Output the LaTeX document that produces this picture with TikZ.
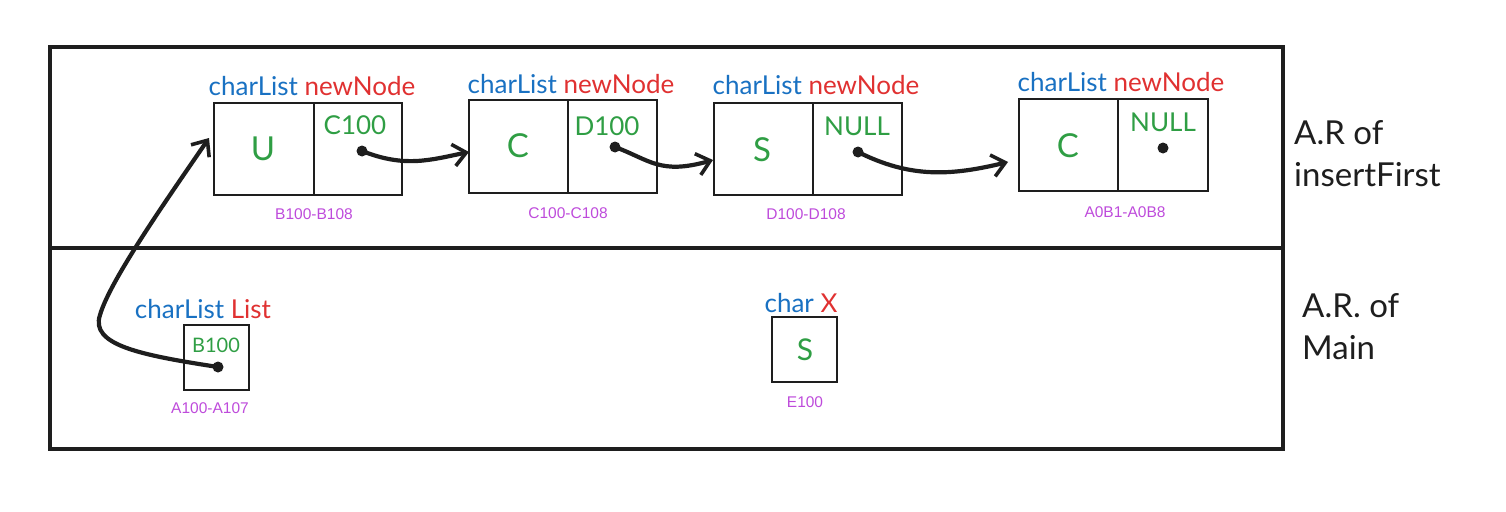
\documentclass[tikz,border=0pt]{standalone}
\usepackage{fontspec}
\setmainfont{Lato}
\newfontfamily\addrfont{Liberation Sans}
\usetikzlibrary{arrows.meta}
\definecolor{exblue}{HTML}{1971C2}
\definecolor{exred}{HTML}{E03131}
\definecolor{exgreen}{HTML}{2F9E44}
\definecolor{expurple}{HTML}{BE4BDB}
\definecolor{exink}{HTML}{1E1E1E}
\tikzset{
  frame/.style={draw=exink, line width=3.4pt},
  cellbox/.style={draw=exink, line width=1.7pt},
  vallbl/.style={text=exgreen, font=\fontsize{33}{36}\selectfont, inner sep=0pt},
  ptrlbl/.style={text=exgreen, font=\fontsize{26}{30}\selectfont, inner sep=0pt},
  smallval/.style={text=exgreen, font=\fontsize{20}{22}\selectfont, inner sep=0pt},
  typelbl/.style={font=\fontsize{26}{30}\selectfont, inner sep=0pt},
  addr/.style={text=expurple, font=\addrfont\fontsize{15.5}{18}\selectfont, inner sep=0pt},
  sidelbl/.style={text=exink, font=\fontsize{33}{42}\selectfont, align=left, inner sep=0pt, anchor=base west},
  ptrdot/.style={circle, fill=exink, inner sep=0pt, minimum size=11pt},
  link/.style={draw=exink, line width=4.2pt, line cap=round, line join=round,
     -{Straight Barb[length=13pt, width=22pt, line width=3.6pt]}},
}
\begin{document}
\begin{tikzpicture}[x=1pt, y=-1pt]
\useasboundingbox (0,0) rectangle (1506,511);
% frames
\draw[frame] (50,47) rectangle (1283,248);
\draw[frame] (50,248) rectangle (1283,449);
\node[sidelbl] (arins) at (1294,186) {A.R of\\insertFirst};
\node[sidelbl] (armain) at (1302,359) {A.R. of\\Main};

% node 1
\draw[cellbox] (214,103) rectangle (402,195);
\draw[cellbox] (314,103) -- (314,195);
\node[typelbl, anchor=base] (t1) at (312,95) {\textcolor{exblue}{charList} \textcolor{exred}{newNode}};
\node[vallbl] (v1) at (263,149) {U};
\node[ptrlbl] (p1) at (355,125) {C100};
\node[ptrdot] (d1) at (362,151) {};
\node[addr] (a1) at (314,214) {B100-B108};
\coordinate (in1) at (209,138);

% node 2
\draw[cellbox] (469,100) rectangle (657,193);
\draw[cellbox] (568,100) -- (568,193);
\node[typelbl, anchor=base] (t2) at (571,93) {\textcolor{exblue}{charList} \textcolor{exred}{newNode}};
\node[vallbl] (v2) at (518,146) {C};
\node[ptrlbl] (p2) at (607,126) {D100};
\node[ptrdot] (d2) at (615,147) {};
\node[addr] (a2) at (568,213) {C100-C108};
\coordinate (in2) at (469,152);

% node 3
\draw[cellbox] (714,103) rectangle (902,195);
\draw[cellbox] (813,103) -- (813,195);
\node[typelbl, anchor=base] (t3) at (816,94) {\textcolor{exblue}{charList} \textcolor{exred}{newNode}};
\node[vallbl] (v3) at (762,150) {S};
\node[ptrlbl] (p3) at (857,126) {NULL};
\node[ptrdot] (d3) at (858,152) {};
\node[addr] (a3) at (806,214) {D100-D108};
\coordinate (in3) at (713,160);

% node 4
\draw[cellbox] (1019,99) rectangle (1208,191);
\draw[cellbox] (1118,99) -- (1118,191);
\node[typelbl, anchor=base] (t4) at (1121,91) {\textcolor{exblue}{charList} \textcolor{exred}{newNode}};
\node[vallbl] (v4) at (1068,146) {C};
\node[ptrlbl] (p4) at (1163,122) {NULL};
\node[ptrdot] (d4) at (1163,148) {};
\node[addr] (a4) at (1125,212) {A0B1-A0B8};
\coordinate (in4) at (1008,162);

% List box
\draw[cellbox] (184,325) rectangle (249,390);
\node[typelbl, anchor=base] (tl) at (203,318) {\textcolor{exblue}{charList} \textcolor{exred}{List}};
\node[smallval] (pl) at (216,345) {B100};
\node[ptrdot] (dl) at (218,367) {};
\node[addr] (al) at (210,408) {A100-A107};

% X box
\draw[cellbox] (772,317) rectangle (837,382);
\node[typelbl, anchor=base] (tx) at (801,312) {\textcolor{exblue}{char} \textcolor{exred}{X}};
\node[vallbl, font=\fontsize{30}{32}\selectfont] (vx) at (805,350) {S};
\node[addr] (ax) at (805,402) {E100};

% links
\draw[link] (d1.center) .. controls (405,168) and (430,160) .. (in2);
\draw[link] (d2.center) .. controls (650,160) and (660,175) .. (in3);
\draw[link] (d3.center) .. controls (910,178) and (950,176) .. (in4);
\draw[link] (dl.center) .. controls (140,355) and (90,345) .. (100,315)
   .. controls (110,280) and (170,195) .. (in1);
\end{tikzpicture}
\end{document}
